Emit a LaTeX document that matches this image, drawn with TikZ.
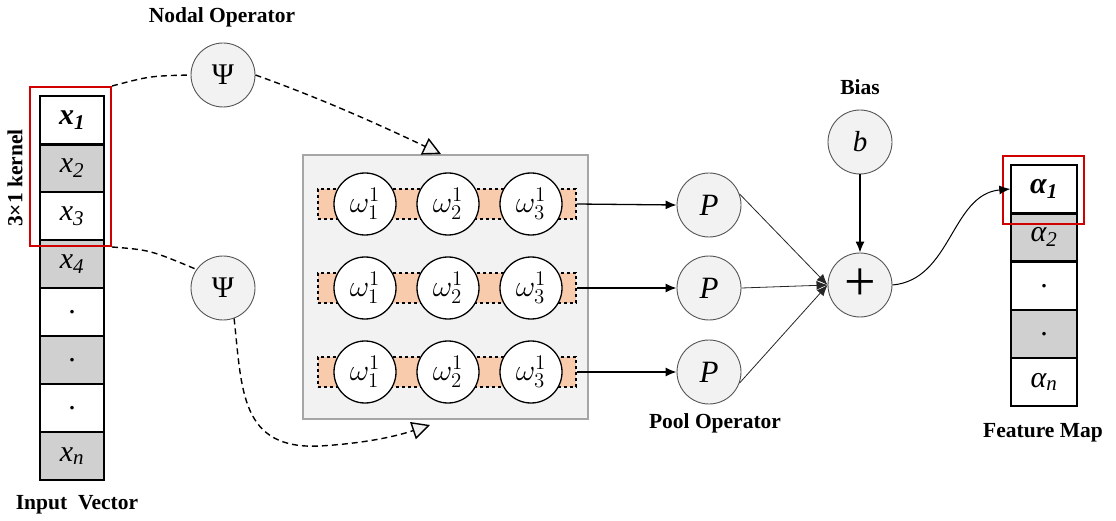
\documentclass[tikz,border=0pt]{standalone}
\usepackage{fontspec}
\setmainfont{Liberation Serif}
\usetikzlibrary{arrows.meta}
\definecolor{cellgray}{HTML}{D0D0D0}
\definecolor{opfill}{HTML}{F2F2F2}
\definecolor{bandfill}{HTML}{F8CBAD}
\definecolor{kred}{HTML}{D00000}
\definecolor{opline}{HTML}{555555}
\newcommand{\wlab}[1]{\scalebox{1.45}{$\omega^{1}_{#1}$}}
\begin{document}
\begin{tikzpicture}[x=1pt,y=-1pt,
  cellw/.style={draw=black, line width=1.4pt, fill=white, minimum width=64pt, minimum height=48pt, inner sep=0pt, font=\fontsize{30}{30}\selectfont},
  cellg/.style={cellw, fill=cellgray},
  redbox/.style={draw=kred, line width=2pt, inner sep=0pt},
  opnode/.style={circle, draw=opline, line width=0.9pt, fill=opfill, minimum size=64pt, inner sep=0pt},
  wnode/.style={circle, draw=black, line width=1.3pt, fill=white, minimum size=62pt, inner sep=0pt, font=\huge},
  band/.style={draw=black, dashed, line width=1.1pt, fill=bandfill, minimum width=258pt, minimum height=30pt, inner sep=0pt},
  lbl/.style={font=\fontsize{21.5}{24}\selectfont\bfseries},
  dline/.style={dashed, line width=1.4pt, dash pattern=on 6pt off 4pt},
  opentip/.style={-{Triangle[fill=opfill, length=18pt, width=18pt, line width=1.4pt]}},
  arr/.style={line width=1.3pt, -{Latex[length=11pt, width=9pt]}},
  thinarr/.style={line width=0.8pt, draw=black!85, -{Latex[length=11pt, width=9pt]}}
]
\useasboundingbox (0,0) rectangle (1116,521);

% input vector
\node[cellw] (x1) at (72,120) {\textbf{\textit{x\textsubscript{1}}}};
\node[cellg] (x2) at (72,168) {\textit{x\textsubscript{2}}};
\node[cellw] (x3) at (72,216) {\textit{x\textsubscript{3}}};
\node[cellg] (x4) at (72,264) {\textit{x\textsubscript{4}}};
\node[cellw] (x5) at (72,312) {.};
\node[cellg] (x6) at (72,360) {.};
\node[cellw] (x7) at (72,408) {.};
\node[cellg] (xn) at (72,456) {\textit{x\textsubscript{n}}};
\draw[line width=3pt] (x1.south west) -- (x1.south east);
\node[redbox, minimum width=81pt, minimum height=159pt] (kernel) at (70.5,166.5) {};

% labels
\node[lbl] (lnodal) at (222,17) {Nodal Operator};
\node[lbl] (linput) at (77,505) {Input\ \ Vector};
\node[lbl, rotate=90] (lkernel) at (15,178) {3×1 kernel};
\node[lbl] (lbias) at (860,87) {Bias};
\node[lbl] (lpool) at (715,423) {Pool Operator};
\node[lbl] (lfeat) at (1043,433) {Feature Map};

% nodal operators
\node[opnode, font=\fontsize{30}{30}\selectfont] (psi1) at (223,75) {Ψ};
\node[opnode, font=\fontsize{30}{30}\selectfont] (psi2) at (223,288) {Ψ};

% neuron box
\node[draw=black!35, line width=1.2pt, fill=opfill, minimum width=285pt, minimum height=264pt, inner sep=0pt] (box) at (445.5,287) {};
\foreach \r/\y in {1/204,2/288,3/372}{
  \node[band] (band\r) at (447,\y) {};
  \node[wnode] (w\r a) at (365,\y) {\wlab{1}};
  \node[wnode] (w\r b) at (448,\y) {\wlab{2}};
  \node[wnode] (w\r c) at (531,\y) {\wlab{3}};
}

% dashed connections
\coordinate (tri1) at (441,154);
\coordinate (tri2) at (430,425);
\draw[dline] (kernel.north east) .. controls (150,76) .. (psi1.west);
\draw[dline, opentip] (psi1.east) .. controls (320,98) and (380,125) .. (tri1);
\draw[dline] (kernel.south east) .. controls (150,250) .. (psi2.145);
\draw[dline, opentip] (psi2.-70) .. controls (242,390) and (240,450) .. (320,446) .. controls (370,443) and (400,435) .. (tri2);

% pool operators
\node[opnode, font=\fontsize{31}{31}\selectfont\itshape] (p1) at (709,205) {P};
\node[opnode, font=\fontsize{31}{31}\selectfont\itshape] (p2) at (709,288) {P};
\node[opnode, font=\fontsize{31}{31}\selectfont\itshape] (p3) at (709,372) {P};
\draw[arr] (band1.east) -- (p1.west);
\draw[arr] (band2.east) -- (p2.west);
\draw[arr] (band3.east) -- (p3.west);

% bias and sum
\node[opnode, font=\fontsize{29}{29}\selectfont\itshape] (b) at (860,142) {b};
\node[opnode, font=\fontsize{56}{56}\selectfont] (plus) at (860,285) {+};
\draw[arr] (b.south) -- (plus.north);
\draw[thinarr] (p1.20) -- (plus.west);
\draw[thinarr] (p2.east) -- (plus.west);
\draw[thinarr] (p3.-20) -- (plus.west);

% feature map
\node[cellw, minimum width=66pt] (a1) at (1044,189) {\textbf{\textit{α\textsubscript{1}}}};
\node[cellg, minimum width=66pt] (a2) at (1044,237) {\textit{α\textsubscript{2}}};
\node[cellw, minimum width=66pt] (a3) at (1044,286) {.};
\node[cellg, minimum width=66pt] (a4) at (1044,334) {.};
\node[cellw, minimum width=66pt] (an) at (1044,382) {\textit{α\textsubscript{n}}};
\draw[line width=3pt] (a1.south west) -- (a1.south east);
\node[redbox, minimum width=81pt, minimum height=68pt] (fred) at (1043.5,190) {};
\draw[line width=1pt, -{Latex[length=11pt, width=9pt]}] (plus.east) to[out=5, in=185] (a1.west);
\end{tikzpicture}
\end{document}
